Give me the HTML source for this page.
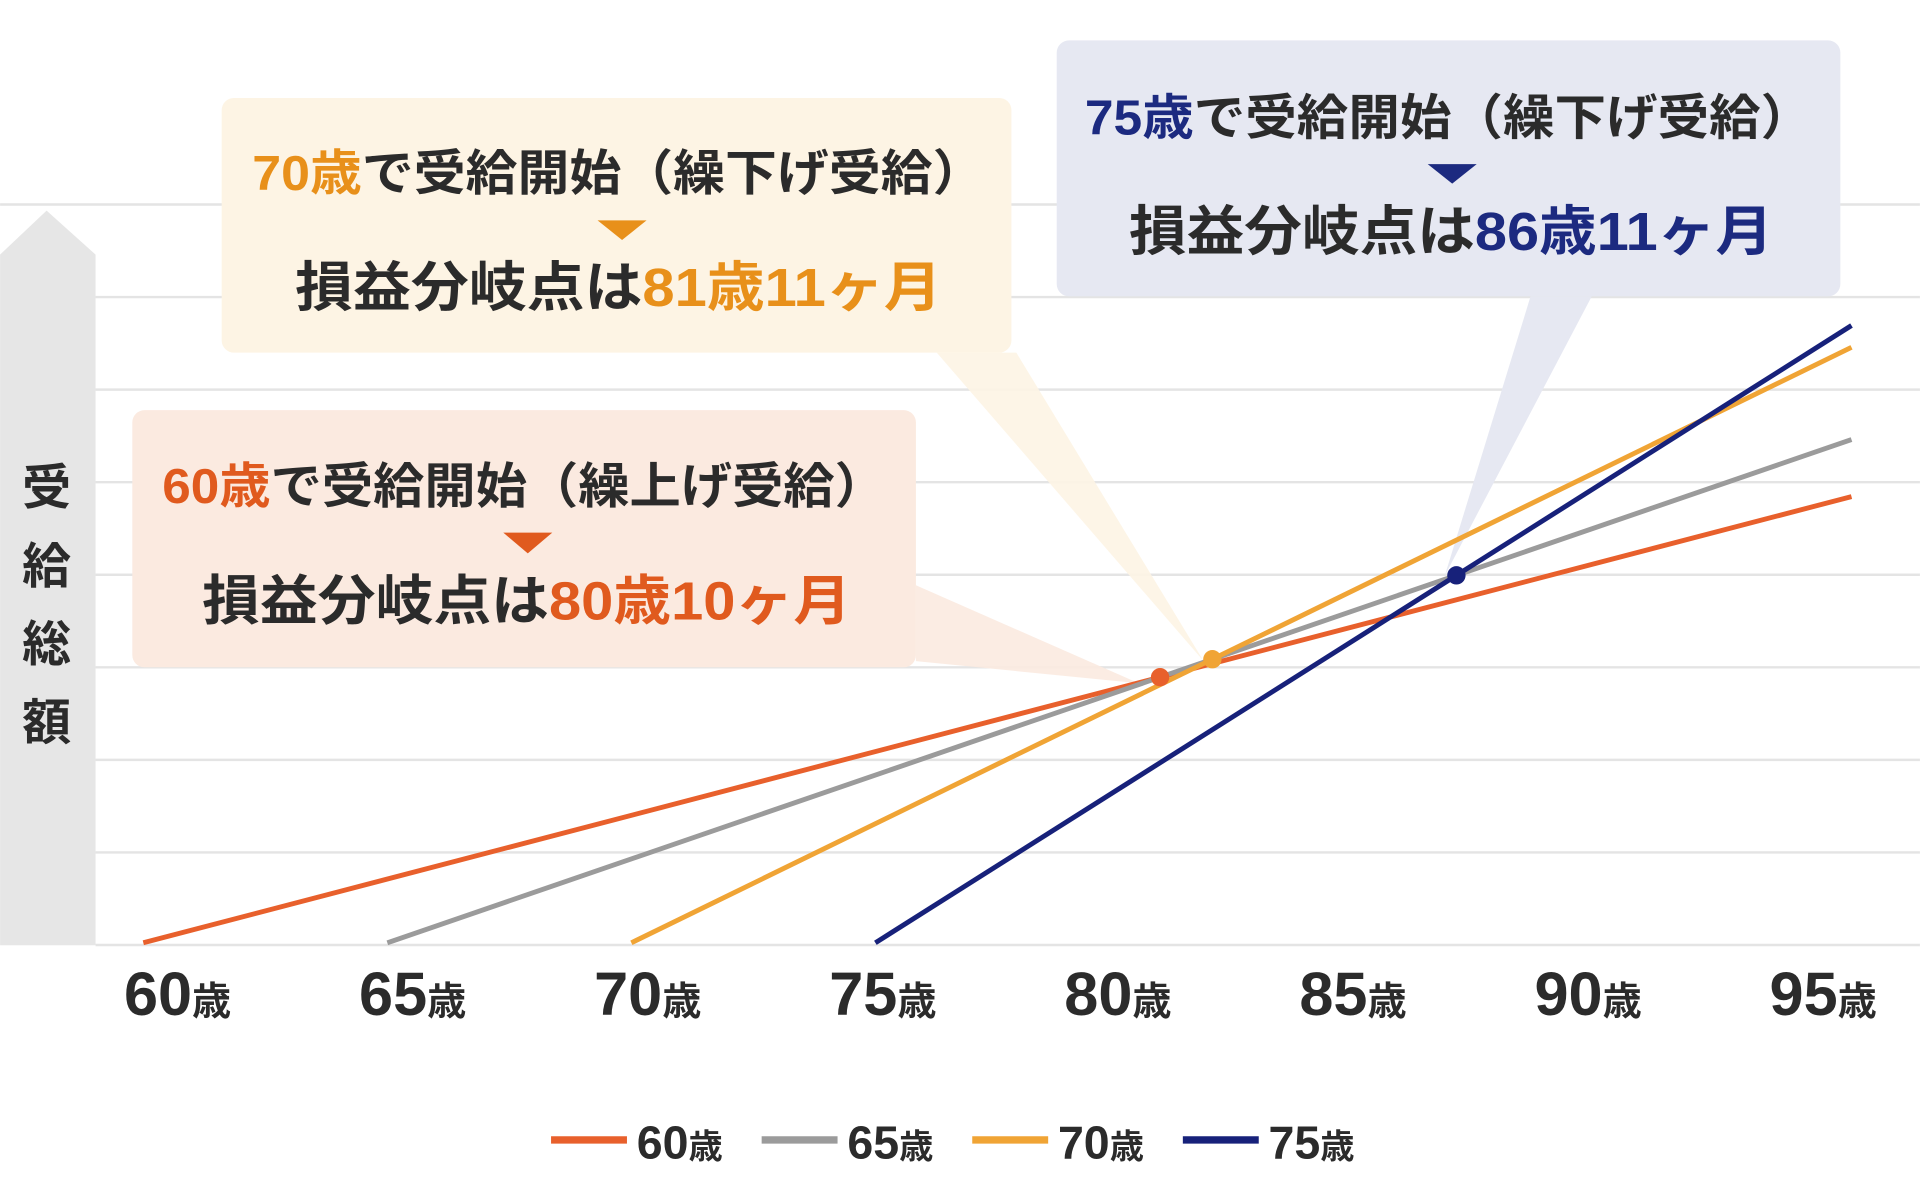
<!DOCTYPE html>
<html><head><meta charset="utf-8"><style>
html,body{margin:0;padding:0;background:#fff;}
svg{display:block;font-family:"Liberation Sans","Noto Sans CJK JP",sans-serif;font-weight:bold;}
</style></head><body>
<svg id="chart" width="1920" height="1184" viewBox="0 0 1568 967" xmlns="http://www.w3.org/2000/svg">
<g id="grid"></g>
<g>
<polygon points="0,208 38,172 78,208 78,772 0,772" fill="#e6e6e6"/>
<text x="38" y="412" font-size="40" fill="#2b2b2b" text-anchor="middle">受</text>
<text x="38" y="476" font-size="40" fill="#2b2b2b" text-anchor="middle">給</text>
<text x="38" y="540" font-size="40" fill="#2b2b2b" text-anchor="middle">総</text>
<text x="38" y="604" font-size="40" fill="#2b2b2b" text-anchor="middle">額</text>
</g>
<g id="pointers">
<polygon points="765,288 830,288 983,540" fill="#fdf4e4" opacity="0.9"/>
<polygon points="748,478 748,540 930,558" fill="#fbeae0" opacity="0.9"/>
<polygon points="1250,242 1300,242 1180,470" fill="#e6e8f2"/>
</g>
<g id="series"></g>
<g id="xticks"></g>

<g>
<rect x="181" y="80" width="645" height="208" rx="10" fill="#fdf4e4"/>
<text x="505" y="155" font-size="40" text-anchor="middle" textLength="598" lengthAdjust="spacingAndGlyphs" fill="#2b2b2b"><tspan fill="#e8901a">70歳</tspan>で受給開始（繰下げ受給）</text>
<polygon points="488,180 528,180 508,196" fill="#e8901a"/>
<text x="505" y="250" font-size="44" text-anchor="middle" textLength="528" lengthAdjust="spacingAndGlyphs" fill="#2b2b2b">損益分岐点は<tspan fill="#e8901a">81歳11ヶ月</tspan></text>
</g>
<g>
<rect x="108" y="335" width="640" height="210" rx="10" fill="#fbeae0"/>
<text x="428" y="411" font-size="40" text-anchor="middle" textLength="591" lengthAdjust="spacingAndGlyphs" fill="#2b2b2b"><tspan fill="#e05a1e">60歳</tspan>で受給開始（繰上げ受給）</text>
<polygon points="411,435 451,435 431,452" fill="#e05a1e"/>
<text x="430" y="506" font-size="44" text-anchor="middle" textLength="530" lengthAdjust="spacingAndGlyphs" fill="#2b2b2b">損益分岐点は<tspan fill="#e05a1e">80歳10ヶ月</tspan></text>
</g>
<g>
<rect x="863" y="33" width="640" height="209" rx="10" fill="#e6e8f2"/>
<text x="1183" y="110" font-size="40" text-anchor="middle" textLength="594" lengthAdjust="spacingAndGlyphs" fill="#2b2b2b"><tspan fill="#1c2a80">75歳</tspan>で受給開始（繰下げ受給）</text>
<polygon points="1166,134 1206,134 1186,150" fill="#1c2a80"/>
<text x="1185" y="204" font-size="44" text-anchor="middle" textLength="526" lengthAdjust="spacingAndGlyphs" fill="#2b2b2b">損益分岐点は<tspan fill="#1c2a80">86歳11ヶ月</tspan></text>
</g>
<g id="legend"></g>
</svg>
<script>
const startAges = [60, 65, 70, 75];
const annualAmounts = [76, 100, 142, 184];
const seriesLabels = ["60歳", "65歳", "70歳", "75歳"];
const tickLabels = ["60", "65", "70", "75", "80", "85", "90", "95"];
const endAge = 95;
const colors = ["#e8602c", "#9b9b9b", "#f0a435", "#17217a"];
const NS = "http://www.w3.org/2000/svg";
const x = a => 117 + (a - 60) * 39.86;
const y = v => 770 - v * 0.137;
const tickX = i => 145 + i * 192;
function mk(t, attrs, parent) { const e = document.createElementNS(NS, t); for (const k in attrs) e.setAttribute(k, attrs[k]); parent.appendChild(e); return e; }
const grid = document.getElementById('grid');
for (let i = 0; i < 9; i++) {
  const gy = 167 + i * 75.6;
  const l = mk('line', {x1: i === 0 ? 0 : 78, x2: 1568, y1: gy, y2: gy, stroke: '#e4e4e4', 'stroke-width': 2}, grid);
  
  
}
const series = document.getElementById('series');
startAges.forEach((s, i) => {
  const l = mk('line', {x1: x(s), y1: y(0), x2: x(endAge), y2: y(annualAmounts[i] * (endAge - s)), stroke: colors[i], 'stroke-width': 4}, series);
  
  
});
// break-even dots: 60 vs 65, 65 vs 70, 65 vs 75
[[0, 1, 0], [1, 2, 2], [1, 3, 3]].forEach(([a, b, c]) => {
  const ra = annualAmounts[a], rb = annualAmounts[b];
  const age = (rb * startAges[b] - ra * startAges[a]) / (rb - ra);
  const d = mk('circle', {cx: x(age), cy: y(ra * (age - startAges[a])), r: 7.5, fill: colors[c]}, series);
  
  
});
const xt = document.getElementById('xticks');
tickLabels.forEach((t, i) => {
  const e = mk('text', {x: tickX(i), y: 829, 'font-size': 50, 'text-anchor': 'middle', fill: '#2b2b2b'}, xt);
  
  
  e.innerHTML = t + '<tspan font-size="32">歳</tspan>';
});
const lg = document.getElementById('legend');
seriesLabels.forEach((t, i) => {
  const bx = 450 + i * 172;
  const l = mk('line', {x1: bx, x2: bx + 62, y1: 931, y2: 931, stroke: colors[i], 'stroke-width': 6}, lg);
  
  
  const e = mk('text', {x: bx + 70, y: 946, 'font-size': 38, fill: '#2b2b2b'}, lg);
  
  
  e.innerHTML = t.replace('歳', '') + '<tspan font-size="28">歳</tspan>';
});
</script>
</body></html>
